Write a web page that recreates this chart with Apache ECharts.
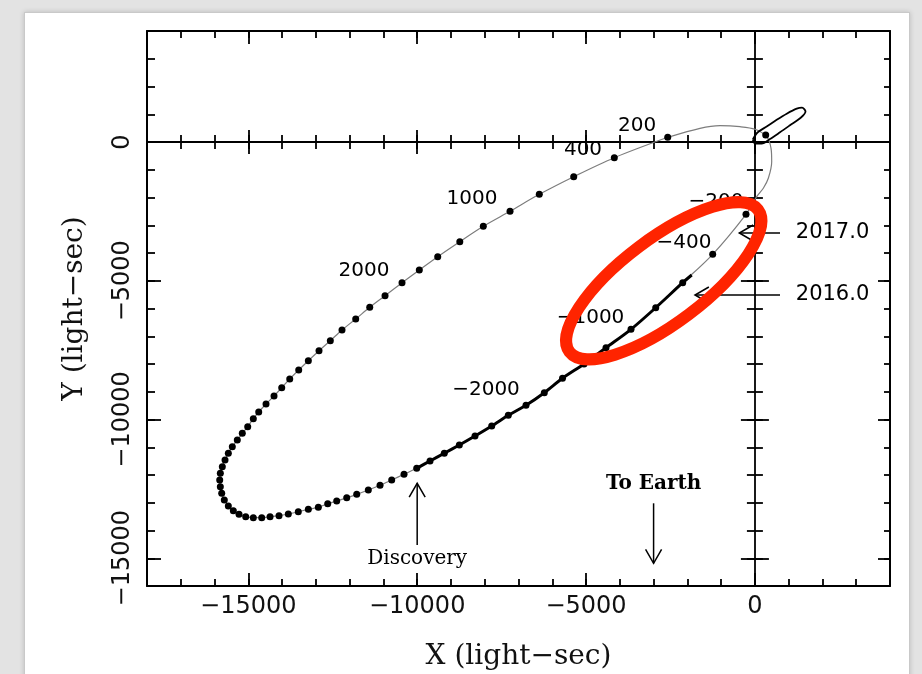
<!DOCTYPE html>
<html>
<head>
<meta charset="utf-8">
<script src="https://cdn.jsdelivr.net/npm/echarts@6/dist/echarts.min.js"></script>
<style>
  html, body { margin: 0; padding: 0; width: 922px; height: 674px; overflow: hidden; background: #e3e3e3; }
  #panel { position: absolute; left: 24px; top: 12px; width: 884px; height: 700px; background: #fff;
           border: 1px solid #c9c9c9; box-shadow: 0 0 5px rgba(0,0,0,0.18); }
  #chart { position: absolute; left: 0; top: 0; width: 922px; height: 674px; }
</style>
</head>
<body>
<div id="panel"></div>
<div id="chart"></div>
<script>
// Axis ranges and labelled ticks (light-seconds)
const X_MIN = -18000, X_MAX = 4000;
const Y_MIN = -16000, Y_MAX = 4000;
const xTickValues = [-15000, -10000, -5000, 0];
const xTickLabels = ['\u221215000', '\u221210000', '\u22125000', '0'];
const yTickValues = [-15000, -10000, -5000, 0];
const yTickLabels = ['\u221215000', '\u221210000', '\u22125000', '0'];

// Orbit positions (dots), ordered along the orbit starting at the "200" point
const dotX = [-2582,-4163,-5365,-6384,-7251,-8042,-8738,-9392,-9937,-10449,-10952,-11405,-11820,-12226,-12572,
  -12907,-13223,-13508,-13774,-14011,-14239,-14476,-14692,-14852,-15018,-15178,-15326,-15474,-15592,-15690,
  -15770,-15829,-15847,-15829,-15788,-15711,-15592,-15444,-15275,-15077,-14852,-14603,-14357,-14091,-13816,
  -13520,-13223,-12927,-12649,-12383,-12086,-11790,-11447,-11100,-10754,-10390,-10014,-9620,-9197,-8752,
  -8288,-7793,-7302,-6778,-6236,-5697,-5060,-4409,-3669,-2937,-2138,-1250,-264];
const dotY = [169,-566,-1250,-1885,-2497,-3038,-3593,-4133,-4613,-5070,-5539,-5957,-6378,-6775,-7160,
  -7521,-7881,-8216,-8541,-8854,-9153,-9441,-9730,-9971,-10259,-10497,-10739,-10980,-11218,-11459,
  -11701,-11939,-12180,-12422,-12660,-12901,-13117,-13287,-13416,-13503,-13539,-13539,-13503,-13467,-13405,
  -13323,-13236,-13164,-13034,-12937,-12818,-12696,-12541,-12371,-12180,-11975,-11759,-11495,-11218,-10919,
  -10595,-10234,-9849,-9488,-9034,-8515,-8000,-7413,-6750,-5971,-5070,-4047,-2605];

// Model orbit through periastron (no dots), joining the last dot back to the first
const loopX = [53, 249, 397, 497, 477, 349, 3, -441, -1033, -1626];
const loopY = [-1971, -1668, -1308, -710, -227, 191, 458, 551, 587, 494];

// Observed span: from the discovery dot up to 2016.0
const discoveryIndex = 56;
const observedLastIndex = 70;
const observedEnd = [-1871, -4793];

// Inner orbit near the origin and its current position
const innerX = [-62, 77, 349, 645, 942, 1238, 1395, 1498, 1365, 1039, 743, 447, 201, 3, -62];
const innerY = [90, 342, 559, 800, 1020, 1200, 1236, 1099, 883, 602, 350, 108, -54, -54, 90];
const innerDot = [320, 252];

// Orbit time labels
const timeText = ['200', '400', '1000', '2000', '\u2212200', '\u2212400', '\u22121000', '\u22122000'];
const timeX = [-3490, -5090, -8377, -11575, -1150, -2099, -4868, -7962];
const timeY = [566, -270, -2029, -4631, -2150, -3622, -6324, -8937];

// Epoch labels and notes
const epochText = ['2017.0', '2016.0'];
const epochX = [2298, 2298];
const epochY = [-3279, -5514];
const noteText = ['Discovery', 'To Earth'];
const noteX = [-10000, -3000];
const noteY = [-15027, -12335];

// Arrows: tail -> head
const arrowFromX = [-10000, -3000, 743, 743];
const arrowFromY = [-14523, -13020, -3279, -5514];
const arrowToX = [-10000, -3000, -462, -1774];
const arrowToY = [-12299, -15182, -3279, -5514];

// Red highlight around the recent part of the orbit
const highlightCenter = [-2700, -5000];

const AX = '#000';
function makeAxis(dim, position, o) {
  const isX = dim === 'x';
  const ax = {
    type: 'value', position: position,
    min: isX ? X_MIN : Y_MIN, max: isX ? X_MAX : Y_MAX, interval: 1000,
    splitLine: { show: false },
    axisLine: { show: !!o.line, onZero: !!o.onZero, onZeroAxisIndex: 0,
                lineStyle: { color: AX, width: o.lineWidth || 2 } },
    axisTick: { show: true, inside: o.inside !== false, length: o.len || 7,
                lineStyle: { color: AX, width: 1.8 } },
    axisLabel: { show: false },
    silent: true
  };
  if (o.major) ax.axisTick.customValues = isX ? xTickValues : yTickValues;
  return ax;
}

const labelFont = { fontFamily: 'DejaVu Sans', fontSize: 24, color: '#111' };
const titleFont = { fontFamily: 'DejaVu Serif', fontSize: 28, color: '#111' };

const xAxes = [
  makeAxis('x', 'bottom', { line: true, len: 7 }),
  makeAxis('x', 'bottom', { major: true, len: 13 }),
  makeAxis('x', 'top', { line: true, len: 7 }),
  makeAxis('x', 'top', { major: true, len: 13 }),
  makeAxis('x', 'bottom', { line: true, onZero: true, len: 7, lineWidth: 1.8 }),
  makeAxis('x', 'bottom', { onZero: true, inside: false, len: 7 }),
  makeAxis('x', 'bottom', { onZero: true, major: true, len: 12 }),
  makeAxis('x', 'bottom', { onZero: true, major: true, inside: false, len: 12 })
];
xAxes[0].axisLabel = Object.assign({
  show: true, margin: 9, customValues: xTickValues,
  formatter: function (v) { const i = xTickValues.indexOf(v); return i >= 0 ? xTickLabels[i] : ''; }
}, labelFont);
xAxes[0].name = 'X (light\u2212sec)';
xAxes[0].nameLocation = 'middle';
xAxes[0].nameGap = 57;
xAxes[0].nameTextStyle = titleFont;

const yAxes = [
  makeAxis('y', 'left', { line: true, len: 8 }),
  makeAxis('y', 'left', { major: true, len: 14 }),
  makeAxis('y', 'right', { line: true, len: 6 }),
  makeAxis('y', 'right', { major: true, len: 12 }),
  makeAxis('y', 'left', { line: true, onZero: true, len: 8, lineWidth: 1.8 }),
  makeAxis('y', 'left', { onZero: true, inside: false, len: 8 }),
  makeAxis('y', 'left', { onZero: true, major: true, len: 14 }),
  makeAxis('y', 'left', { onZero: true, major: true, inside: false, len: 14 })
];
yAxes[0].axisLabel = Object.assign({
  show: true, margin: 12, rotate: 90, customValues: yTickValues,
  formatter: function (v) { const i = yTickValues.indexOf(v); return i >= 0 ? yTickLabels[i] : ''; }
}, labelFont);
yAxes[0].name = 'Y (light\u2212sec)';
yAxes[0].nameLocation = 'middle';
yAxes[0].nameGap = 58;
yAxes[0].nameTextStyle = titleFont;

// Build series data from the arrays
const dots = dotX.map((x, i) => [x, dotY[i]]);
const orbitPath = dots.concat(loopX.map((x, i) => [x, loopY[i]]), [dots[0]]);
const observedPath = dots.slice(discoveryIndex, observedLastIndex + 1).concat([observedEnd]);
const innerPath = innerX.map((x, i) => [x, innerY[i]]);

const numberLabel = { fontFamily: 'DejaVu Sans', fontSize: 20, color: '#000' };
const annotations = []
  .concat(timeText.map((t, i) => ({ name: t, value: [timeX[i], timeY[i]], label: numberLabel })))
  .concat(epochText.map((t, i) => ({ name: t, value: [epochX[i], epochY[i]],
    label: { fontFamily: 'DejaVu Sans', fontSize: 21, color: '#000' } })))
  .concat([
    { name: noteText[0], value: [noteX[0], noteY[0]],
      label: { fontFamily: 'DejaVu Serif', fontSize: 20, color: '#000' } },
    { name: noteText[1], value: [noteX[1], noteY[1]],
      label: { fontFamily: 'DejaVu Serif', fontSize: 20, fontWeight: 'bold', color: '#000' } }
  ]);

const arrows = arrowFromX.map((x, i) => [x, arrowFromY[i], arrowToX[i], arrowToY[i]]);

const chart = echarts.init(document.getElementById('chart'), null, { renderer: 'canvas' });
chart.setOption({
  animation: false,
  backgroundColor: 'transparent',
  grid: { left: 147, top: 31, width: 743, height: 555, containLabel: false, outerBoundsMode: 'none' },
  xAxis: xAxes,
  yAxis: yAxes,
  series: [
    { type: 'line', data: orbitPath, symbol: 'none', smooth: 0.3, z: 2, silent: true,
      lineStyle: { color: '#7d7d7d', width: 1.2 } },
    { type: 'line', data: observedPath, symbol: 'none', smooth: 0.3, z: 3, silent: true,
      lineStyle: { color: '#000', width: 3 } },
    { type: 'scatter', data: dots, symbolSize: 7, z: 4, silent: true,
      itemStyle: { color: '#000', opacity: 1 } },
    { type: 'line', data: innerPath, symbol: 'none', smooth: 0.3, z: 3, silent: true,
      lineStyle: { color: '#000', width: 1.8 } },
    { type: 'scatter', data: [innerDot], symbolSize: 7, z: 4, silent: true,
      itemStyle: { color: '#000', opacity: 1 } },
    { type: 'scatter', data: annotations, symbolSize: 1, z: 6, silent: true,
      itemStyle: { color: 'rgba(0,0,0,0)', opacity: 1 },
      label: { show: true, position: 'inside', formatter: '{b}', align: 'center', verticalAlign: 'middle',
               opacity: 1, textBorderWidth: 0 } },
    { type: 'custom', coordinateSystem: 'cartesian2d', data: arrows, z: 6, silent: true,
      encode: { x: [0, 2], y: [1, 3] },
      renderItem: function (params, api) {
        const p0 = api.coord([api.value(0), api.value(1)]);
        const p1 = api.coord([api.value(2), api.value(3)]);
        const ang = Math.atan2(p1[1] - p0[1], p1[0] - p0[0]);
        const L = 16, h = 30 * Math.PI / 180;
        const w1 = [p1[0] - L * Math.cos(ang - h), p1[1] - L * Math.sin(ang - h)];
        const w2 = [p1[0] - L * Math.cos(ang + h), p1[1] - L * Math.sin(ang + h)];
        const st = { stroke: '#000', lineWidth: 1.5, fill: null };
        return { type: 'group', children: [
          { type: 'polyline', shape: { points: [p0, p1] }, style: st },
          { type: 'polyline', shape: { points: [w1, p1, w2] }, style: st }
        ] };
      } },
    { type: 'custom', coordinateSystem: 'cartesian2d', data: [highlightCenter], z: 20, silent: true,
      renderItem: function (params, api) {
        const c = api.coord([api.value(0), api.value(1)]);
        return { type: 'ellipse', x: c[0], y: c[1], rotation: 37 * Math.PI / 180,
                 shape: { cx: 0, cy: 0, rx: 118, ry: 42 },
                 style: { fill: 'none', stroke: '#ff2400', lineWidth: 12 } };
      } }
  ]
});
</script>
</body>
</html>
